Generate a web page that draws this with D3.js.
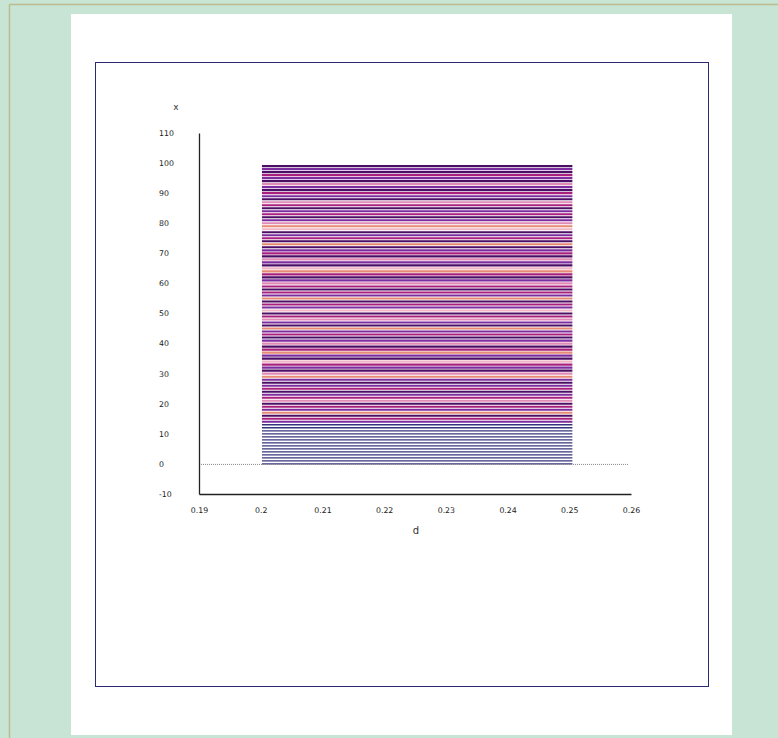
<!DOCTYPE html>
<html>
<head>
<meta charset="utf-8">
<script src="https://cdn.jsdelivr.net/npm/d3@7"></script>
<style>
  html, body { margin: 0; padding: 0; background: #c8e4d4; }
  svg { display: block; }
</style>
</head>
<body>
<svg id="chart" width="778" height="738"></svg>
<script>
// x-axis (d) ticks and y-axis (x) ticks
const xTicks = [0.19, 0.2, 0.21, 0.22, 0.23, 0.24, 0.25, 0.26];
const yTicks = [-10, 0, 10, 20, 30, 40, 50, 60, 70, 80, 90, 100, 110];

// each horizontal segment spans d = segStart .. segEnd at level x
const segStart = 0.2002;
const segEnd = 0.2505;
const levels = [
  0, 1, 2, 3, 4, 5, 6, 7, 8, 9,
  10, 11, 12, 13, 14, 15, 16, 17, 18, 19,
  20, 21, 22, 23, 24, 25, 26, 27, 28, 29,
  30, 31, 32, 33, 34, 35, 36, 37, 38, 39,
  40, 41, 42, 43, 44, 45, 46, 47, 48, 49,
  50, 51, 52, 53, 54, 55, 56, 57, 58, 59,
  60, 61, 62, 63, 64, 65, 66, 67, 68, 69,
  70, 71, 72, 73, 74, 75, 76, 77, 78, 79,
  80, 81, 82, 83, 84, 85, 86, 87, 88, 89,
  90, 91, 92, 93, 94, 95, 96, 97, 98, 99
];
// colour group of each level, same order as levels
const groups = [
  "n","n","n","n","n","n","n","n","n","n",
  "n","n","n","n","b","c","a","e","b","c",
  "a","d","c","b","a","c","b","a","b","e",
  "d","a","b","c","f","a","b","e","c","a",
  "d","b","a","c","b","e","a","b","d","c",
  "a","f","b","c","a","e","b","c","a","c",
  "d","b","a","c","e","f","a","b","d","a",
  "c","b","a","e","a","c","b","a","f","e",
  "d","b","a","c","b","a","c","d","a","b",
  "c","a","b","d","a","b","c","a","b","a"
];
const groupColors = {
  n: "#34347e",
  a: "#4c0e64",
  b: "#7c2c9e",
  c: "#a8207c",
  d: "#e08ab6",
  e: "#e68a74",
  f: "#f0b6c6"
};

const svg = d3.select("#chart");

// page frame
svg.append("line").attr("x1", 9).attr("x2", 778).attr("y1", 4.5).attr("y2", 4.5)
  .attr("stroke", "#bcbc90").attr("stroke-width", 1.5);
svg.append("line").attr("x1", 9.5).attr("x2", 9.5).attr("y1", 4).attr("y2", 738)
  .attr("stroke", "#bcbc90").attr("stroke-width", 1.5);
svg.append("rect").attr("x", 71).attr("y", 14).attr("width", 661).attr("height", 721)
  .attr("fill", "#ffffff");
svg.append("rect").attr("x", 95.5).attr("y", 62.5).attr("width", 613).attr("height", 624)
  .attr("fill", "none").attr("stroke", "#2a2a72").attr("stroke-width", 1);

const x = d3.scaleLinear().domain([0.19, 0.26]).range([199, 631]);
const y = d3.scaleLinear().domain([-10, 110]).range([494, 133]);

const font = "'DejaVu Sans', sans-serif";

// segments
svg.append("g").selectAll("line")
  .data(levels.map((v, i) => ({ v, g: groups[i] })))
  .join("line")
  .attr("x1", x(segStart)).attr("x2", x(segEnd))
  .attr("y1", d => y(d.v)).attr("y2", d => y(d.v))
  .attr("stroke", d => groupColors[d.g])
  .attr("stroke-width", d => d.g === "n" ? 1.4 : 2.1);

// zero reference line
svg.append("line")
  .attr("x1", x(0.19)).attr("x2", x(0.26) - 3)
  .attr("y1", y(0) + 0.5).attr("y2", y(0) + 0.5)
  .attr("stroke", "#888").attr("stroke-width", 1).attr("stroke-dasharray", "1,1");

// y axis
const yAxis = d3.axisLeft(y).tickValues(yTicks).tickSize(0).tickFormat(d => String(d));
const gy = svg.append("g").attr("transform", `translate(${x(0.19)},0)`).call(yAxis);
gy.select(".domain").attr("stroke", "#222").attr("stroke-width", 1.3);
gy.selectAll("text")
  .attr("x", 159 - x(0.19)).attr("text-anchor", "start").attr("dy", "0.3em")
  .attr("font-family", font).attr("font-size", 7.8).attr("fill", "#222");

// x axis
const xAxis = d3.axisBottom(x).tickValues(xTicks).tickSize(0)
  .tickFormat(d => d === 0.2 ? "0.2" : d3.format(".2f")(d));
const gx = svg.append("g").attr("transform", `translate(0,${y(-10)})`).call(xAxis);
gx.select(".domain").attr("stroke", "#222").attr("stroke-width", 1.3);
gx.selectAll("text")
  .attr("y", 17).attr("dy", "0.3em")
  .attr("font-family", font).attr("font-size", 7.8).attr("fill", "#222");

// axis titles
svg.append("text").attr("x", 176).attr("y", 110).attr("text-anchor", "middle")
  .attr("font-family", font).attr("font-size", 9).attr("fill", "#333").text("x");
svg.append("text").attr("x", 416).attr("y", 534).attr("text-anchor", "middle")
  .attr("font-family", font).attr("font-size", 10).attr("fill", "#333").text("d");
</script>
</body>
</html>
